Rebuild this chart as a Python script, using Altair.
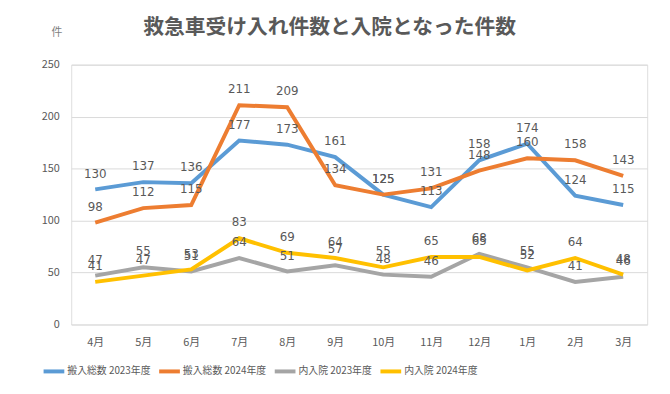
import altair as alt
import pandas as pd

months = ["4月", "5月", "6月", "7月", "8月", "9月", "10月", "11月", "12月", "1月", "2月", "3月"]
series_names = ["搬入総数 2023年度", "搬入総数 2024年度", "内入院 2023年度", "内入院 2024年度"]
total_2023 = [130, 137, 136, 177, 173, 161, 125, 113, 158, 174, 124, 115]
total_2024 = [98, 112, 115, 211, 209, 134, 125, 131, 148, 160, 158, 143]
inpat_2023 = [47, 55, 51, 64, 51, 57, 48, 46, 68, 55, 41, 46]
inpat_2024 = [41, 47, 53, 83, 69, 64, 55, 65, 65, 52, 64, 48]
colors = ["#5B9BD5", "#ED7D31", "#A5A5A5", "#FFC000"]
y_ticks = [0, 50, 100, 150, 200, 250]

rows = []
for name, vals in zip(series_names, [total_2023, total_2024, inpat_2023, inpat_2024]):
    for m, v in zip(months, vals):
        rows.append({"月": m, "系列": name, "件数": v})
df = pd.DataFrame(rows)

FONT = "Noto Sans CJK JP"

x = alt.X("月:N", sort=months, title=None,
          scale=alt.Scale(paddingInner=0, paddingOuter=0),
          axis=alt.Axis(labelAngle=0, domain=False, ticks=False, grid=False,
                        labelPadding=12, labelFontSize=11, labelColor="#595959",
                        labelFont=FONT))
y = alt.Y("件数:Q", scale=alt.Scale(domain=[0, 250], nice=False),
          axis=alt.Axis(values=y_ticks, domain=False, ticks=False, grid=True,
                        gridColor="#D9D9D9", labelPadding=12, labelFontSize=11,
                        labelColor="#595959", labelFont=FONT,
                        title="件", titleAngle=0, titleX=-15, titleY=-33,
                        titleAlign="center", titleBaseline="middle",
                        titleFontSize=11, titleFontWeight="normal",
                        titleColor="#7F7F7F", titleFont=FONT))
color = alt.Color("系列:N", sort=series_names,
                  scale=alt.Scale(domain=series_names, range=colors),
                  legend=alt.Legend(title=None, orient="none", direction="horizontal",
                                    legendX=-30, legendY=298, gridAlign="none",
                                    symbolType="stroke", symbolStrokeWidth=4,
                                    symbolSize=440, columnPadding=0, labelOffset=1,
                                    labelFontSize=10, labelColor="#595959",
                                    labelFont=FONT))

lines = alt.Chart(df).mark_line(strokeWidth=4).encode(
    x=x, y=y, color=color, detail="系列:N"
)
labels = alt.Chart(df).mark_text(dy=-16, fontSize=12, color="#595959",
                                 font="DejaVu Sans", baseline="middle").encode(
    x=alt.X("月:N", sort=months), y="件数:Q", text="件数:Q"
)

chart = alt.layer(lines, labels).properties(
    width=583, height=263,
    title=alt.TitleParams("救急車受け入れ件数と入院となった件数", fontSize=21,
                          font=FONT, fontWeight="bold", color="#595959",
                          anchor="middle", dx=-30, offset=-12),
    autosize=alt.AutoSizeParams(type="none"),
    padding={"left": 64, "top": 55, "right": 15, "bottom": 70},
).configure_view(stroke=None).configure(background="white")

chart.save("out.html", embed_options={"renderer": "svg", "actions": False})
